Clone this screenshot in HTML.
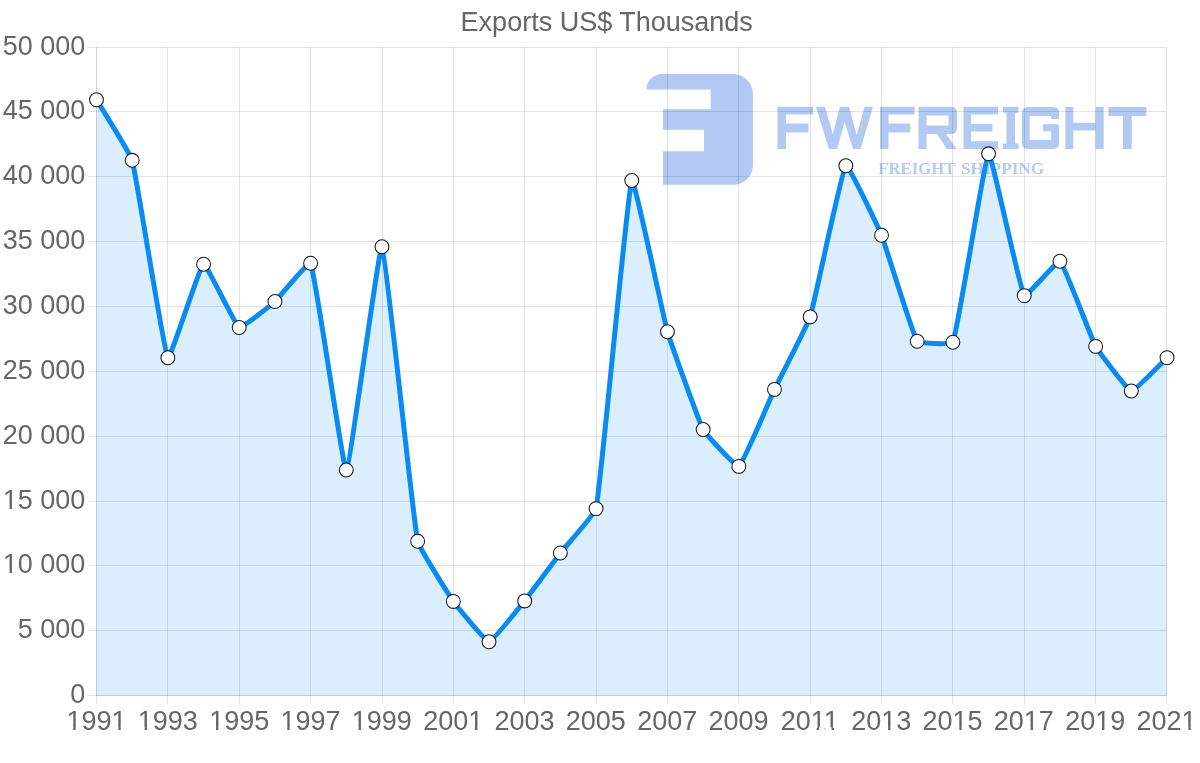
<!DOCTYPE html>
<html><head><meta charset="utf-8"><title>Exports US$ Thousands</title>
<style>html,body{margin:0;padding:0;background:#fff;overflow:hidden}svg{display:block;will-change:transform}text{font-family:"Liberation Sans",sans-serif}text.sf{font-family:"Liberation Serif",serif}</style></head>
<body>
<svg width="1200" height="763" viewBox="0 0 1200 763">
<rect width="1200" height="763" fill="#fff"/>
<g fill="#b1c9f3">
<path d="M646.5,89.4 C646.5,81 653.5,74.1 662,74.1 L733,74.1 C744,74.1 753,83 753,94 L753,165 C753,176 744,184.8 733,184.8 L663,184.8 L663,151.2 L704,151.2 L704,129.7 L663,129.7 L663,109.2 L710.7,109.2 L710.7,89.4 Z"/>
<path d="M777.5,106.8 H813 V114.5 H786 V123.5 H808.5 V132.5 H786 V149 H777.5 Z"/>
<path d="M816,106.8 L825,106.8 L832.8,134.3 L840,106.8 L849,106.8 L856.75,135.2 L864.5,106.8 L873,106.8 L860.5,149 L853,149 L844.68,122 L837,149 L829,149 Z"/>
<path d="M880,106.8 H914.5 V114.5 H888.5 V123.5 H910 V132.5 H888.5 V149 H880 Z"/>
<path fill-rule="evenodd" d="M918.5,106.8 H951 Q957,106.8 957,112.8 V128 Q957,134 951,134 H946 L956.5,149 H947 L937,134 H926.5 V149 H918.5 Z M926.5,115.5 V125.5 H948.5 V115.5 Z"/>
<path d="M963.5,106.8 H998 V114.5 H971 V124 H992.5 V131.5 H971 V141.2 H998 V149 H963.5 Z"/>
<path d="M1003,106.8 H1018.5 V112.8 H1015 V143.5 H1018.5 V149 H1003 V143.5 H1006.5 V112.8 H1003 Z"/>
<path d="M1028,107 H1053 Q1059.1,107 1059.1,113 V119 H1051.2 V116 H1029.6 V139.9 H1051.2 V131.2 H1042.8 V124.2 H1059.1 V143 Q1059.1,148.9 1053,148.9 H1028 Q1022,148.9 1022,143 V113 Q1022,107 1028,107 Z"/>
<path d="M1065.4,107 H1073.3 V122.8 H1095.5 V107 H1103.7 V148.9 H1095.5 V130.6 H1073.3 V148.9 H1065.4 Z"/>
<path d="M1108.3,107 H1146.3 V116 H1131.7 V148.9 H1122.9 V116 H1108.3 Z"/>
</g>
<g font-size="17.4" font-weight="bold" fill="#b7cbf1"><text class="sf" x="878.3" y="173.9" textLength="77.2" lengthAdjust="spacingAndGlyphs">FREIGHT</text><text class="sf" x="960.9" y="173.9" textLength="83.4" lengthAdjust="spacingAndGlyphs">SHIPPING</text></g>
<path d="M96.5,47.5 V703.5 M167.5,47.5 V703.5 M239.5,47.5 V703.5 M310.5,47.5 V703.5 M382.5,47.5 V703.5 M453.5,47.5 V703.5 M524.5,47.5 V703.5 M596.5,47.5 V703.5 M667.5,47.5 V703.5 M738.5,47.5 V703.5 M810.5,47.5 V703.5 M881.5,47.5 V703.5 M952.5,47.5 V703.5 M1024.5,47.5 V703.5 M1095.5,47.5 V703.5 M1166.5,47.5 V703.5 M88.5,47.5 H1166.5 M88.5,111.5 H1166.5 M88.5,176.5 H1166.5 M88.5,241.5 H1166.5 M88.5,306.5 H1166.5 M88.5,371.5 H1166.5 M88.5,436.5 H1166.5 M88.5,501.5 H1166.5 M88.5,565.5 H1166.5 M88.5,630.5 H1166.5 M88.5,695.5 H1166.5" stroke="rgba(0,0,0,0.11)" stroke-width="1" fill="none"/>
<path d="M96.5,47.5 V695.5 M96.5,695.5 H1166.5" stroke="rgba(0,0,0,0.07)" stroke-width="1" fill="none"/>
<path d="M96.5,99.7 C99.71,105.15 130.52,154.27 132.18,160.3 C136.94,177.49 163.58,351.46 167.87,357.7 C170,360.81 199.83,265.77 203.55,264.2 C206.25,263.06 235.24,325.41 239.23,327.5 C241.66,328.77 271.98,304.15 274.92,301.5 C278.4,298.37 309.32,260.27 310.6,263.3 C315.74,275.44 343.19,470.72 346.28,470 C349.62,469.22 379.19,243.93 381.97,246.7 C385.61,250.34 412.45,515.37 417.65,541.2 C418.88,547.29 449.7,596.29 453.33,601.4 C456.13,605.33 485.82,641.72 489.02,641.7 C492.24,641.68 521.64,604.7 524.7,600.9 C528.07,596.71 557.1,557.25 560.38,553 C563.52,548.95 595.12,513.53 596.07,508.6 C601.54,480.01 627.38,191.33 631.75,180.5 C633.81,175.4 663.59,318.28 667.43,331.7 C670.01,340.69 698.81,421.38 703.12,429.5 C705.24,433.5 736.38,467.76 738.8,466.4 C742.8,464.15 771.19,396.29 774.48,389.4 C777.62,382.84 807.97,323.79 810.17,316.9 C814.39,303.66 841.58,170.59 845.85,165.7 C848,163.24 878.89,228.7 881.53,235.2 C885.31,244.5 912.35,333.9 917.22,341.2 C918.77,343.53 951.89,344.85 952.9,342.2 C958.31,327.98 984.94,156.18 988.58,153.8 C991.36,151.99 1019.47,288.37 1024.27,295.6 C1025.89,298.05 1057.71,259.7 1059.95,261.3 C1064.13,264.28 1091.67,339.19 1095.63,346.4 C1098.09,350.86 1127.86,390.46 1131.32,391 C1134.28,391.46 1163.79,360.61 1167,357.6 L1167,695.5 L96.5,695.5 Z" fill="rgba(10,139,241,0.15)" stroke="none"/>
<path d="M96.5,99.7 C99.71,105.15 130.52,154.27 132.18,160.3 C136.94,177.49 163.58,351.46 167.87,357.7 C170,360.81 199.83,265.77 203.55,264.2 C206.25,263.06 235.24,325.41 239.23,327.5 C241.66,328.77 271.98,304.15 274.92,301.5 C278.4,298.37 309.32,260.27 310.6,263.3 C315.74,275.44 343.19,470.72 346.28,470 C349.62,469.22 379.19,243.93 381.97,246.7 C385.61,250.34 412.45,515.37 417.65,541.2 C418.88,547.29 449.7,596.29 453.33,601.4 C456.13,605.33 485.82,641.72 489.02,641.7 C492.24,641.68 521.64,604.7 524.7,600.9 C528.07,596.71 557.1,557.25 560.38,553 C563.52,548.95 595.12,513.53 596.07,508.6 C601.54,480.01 627.38,191.33 631.75,180.5 C633.81,175.4 663.59,318.28 667.43,331.7 C670.01,340.69 698.81,421.38 703.12,429.5 C705.24,433.5 736.38,467.76 738.8,466.4 C742.8,464.15 771.19,396.29 774.48,389.4 C777.62,382.84 807.97,323.79 810.17,316.9 C814.39,303.66 841.58,170.59 845.85,165.7 C848,163.24 878.89,228.7 881.53,235.2 C885.31,244.5 912.35,333.9 917.22,341.2 C918.77,343.53 951.89,344.85 952.9,342.2 C958.31,327.98 984.94,156.18 988.58,153.8 C991.36,151.99 1019.47,288.37 1024.27,295.6 C1025.89,298.05 1057.71,259.7 1059.95,261.3 C1064.13,264.28 1091.67,339.19 1095.63,346.4 C1098.09,350.86 1127.86,390.46 1131.32,391 C1134.28,391.46 1163.79,360.61 1167,357.6" fill="none" stroke="#0a8bf1" stroke-width="5" stroke-linejoin="miter" stroke-linecap="butt"/>
<g fill="#fff" stroke="#161616" stroke-width="1.05">
<circle cx="96.5" cy="99.7" r="6.95"/>
<circle cx="132.18" cy="160.3" r="6.95"/>
<circle cx="167.87" cy="357.7" r="6.95"/>
<circle cx="203.55" cy="264.2" r="6.95"/>
<circle cx="239.23" cy="327.5" r="6.95"/>
<circle cx="274.92" cy="301.5" r="6.95"/>
<circle cx="310.6" cy="263.3" r="6.95"/>
<circle cx="346.28" cy="470" r="6.95"/>
<circle cx="381.97" cy="246.7" r="6.95"/>
<circle cx="417.65" cy="541.2" r="6.95"/>
<circle cx="453.33" cy="601.4" r="6.95"/>
<circle cx="489.02" cy="641.7" r="6.95"/>
<circle cx="524.7" cy="600.9" r="6.95"/>
<circle cx="560.38" cy="553" r="6.95"/>
<circle cx="596.07" cy="508.6" r="6.95"/>
<circle cx="631.75" cy="180.5" r="6.95"/>
<circle cx="667.43" cy="331.7" r="6.95"/>
<circle cx="703.12" cy="429.5" r="6.95"/>
<circle cx="738.8" cy="466.4" r="6.95"/>
<circle cx="774.48" cy="389.4" r="6.95"/>
<circle cx="810.17" cy="316.9" r="6.95"/>
<circle cx="845.85" cy="165.7" r="6.95"/>
<circle cx="881.53" cy="235.2" r="6.95"/>
<circle cx="917.22" cy="341.2" r="6.95"/>
<circle cx="952.9" cy="342.2" r="6.95"/>
<circle cx="988.58" cy="153.8" r="6.95"/>
<circle cx="1024.27" cy="295.6" r="6.95"/>
<circle cx="1059.95" cy="261.3" r="6.95"/>
<circle cx="1095.63" cy="346.4" r="6.95"/>
<circle cx="1131.32" cy="391" r="6.95"/>
<circle cx="1167" cy="357.6" r="6.95"/>
</g>
<g fill="#666666" font-size="27" transform="scale(1,1.0)">
<text x="606.7" y="31.3" text-anchor="middle">Exports US$ Thousands</text>
<text x="85.4" y="54.7" text-anchor="end">50 000</text>
<text x="85.4" y="118.7" text-anchor="end">45 000</text>
<text x="85.4" y="183.7" text-anchor="end">40 000</text>
<text x="85.4" y="248.7" text-anchor="end">35 000</text>
<text x="85.4" y="313.7" text-anchor="end">30 000</text>
<text x="85.4" y="378.7" text-anchor="end">25 000</text>
<text x="85.4" y="443.7" text-anchor="end">20 000</text>
<text x="85.4" y="508.7" text-anchor="end">15 000</text>
<text x="85.4" y="572.7" text-anchor="end">10 000</text>
<text x="85.4" y="637.7" text-anchor="end">5 000</text>
<text x="85.4" y="702.7" text-anchor="end">0</text>
<text x="96.5" y="729.7" text-anchor="middle">1991</text>
<text x="167.83" y="729.7" text-anchor="middle">1993</text>
<text x="239.17" y="729.7" text-anchor="middle">1995</text>
<text x="310.5" y="729.7" text-anchor="middle">1997</text>
<text x="381.83" y="729.7" text-anchor="middle">1999</text>
<text x="453.17" y="729.7" text-anchor="middle">2001</text>
<text x="524.5" y="729.7" text-anchor="middle">2003</text>
<text x="595.83" y="729.7" text-anchor="middle">2005</text>
<text x="667.17" y="729.7" text-anchor="middle">2007</text>
<text x="738.5" y="729.7" text-anchor="middle">2009</text>
<text x="809.83" y="729.7" text-anchor="middle">2011</text>
<text x="881.17" y="729.7" text-anchor="middle">2013</text>
<text x="952.5" y="729.7" text-anchor="middle">2015</text>
<text x="1023.83" y="729.7" text-anchor="middle">2017</text>
<text x="1095.17" y="729.7" text-anchor="middle">2019</text>
<text x="1166.5" y="729.7" text-anchor="middle">2021</text>
</g>
<g fill="#fff"><rect x="67.55" y="727.3" width="5.74" height="3"/><rect x="75.66" y="727.3" width="5.39" height="3"/><rect x="112.6" y="727.3" width="5.74" height="3"/><rect x="120.71" y="727.3" width="5.39" height="3"/><rect x="138.88" y="727.3" width="5.74" height="3"/><rect x="146.99" y="727.3" width="5.39" height="3"/><rect x="210.21" y="727.3" width="5.74" height="3"/><rect x="218.33" y="727.3" width="5.39" height="3"/><rect x="281.55" y="727.3" width="5.74" height="3"/><rect x="289.66" y="727.3" width="5.39" height="3"/><rect x="352.88" y="727.3" width="5.74" height="3"/><rect x="360.99" y="727.3" width="5.39" height="3"/><rect x="469.26" y="727.3" width="5.74" height="3"/><rect x="477.38" y="727.3" width="5.39" height="3"/><rect x="810.91" y="727.3" width="5.74" height="3"/><rect x="819.03" y="727.3" width="5.39" height="3"/><rect x="825.93" y="727.3" width="5.74" height="3"/><rect x="834.04" y="727.3" width="5.39" height="3"/><rect x="882.25" y="727.3" width="5.74" height="3"/><rect x="890.36" y="727.3" width="5.39" height="3"/><rect x="953.58" y="727.3" width="5.74" height="3"/><rect x="961.69" y="727.3" width="5.39" height="3"/><rect x="1024.91" y="727.3" width="5.74" height="3"/><rect x="1033.03" y="727.3" width="5.39" height="3"/><rect x="1096.25" y="727.3" width="5.74" height="3"/><rect x="1104.36" y="727.3" width="5.39" height="3"/><rect x="1182.6" y="727.3" width="5.74" height="3"/><rect x="1190.71" y="727.3" width="5.39" height="3"/><rect x="3.9" y="506.3" width="5.74" height="3"/><rect x="12.01" y="506.3" width="5.39" height="3"/><rect x="3.9" y="570.3" width="5.74" height="3"/><rect x="12.01" y="570.3" width="5.39" height="3"/></g>
</svg>
</body></html>
